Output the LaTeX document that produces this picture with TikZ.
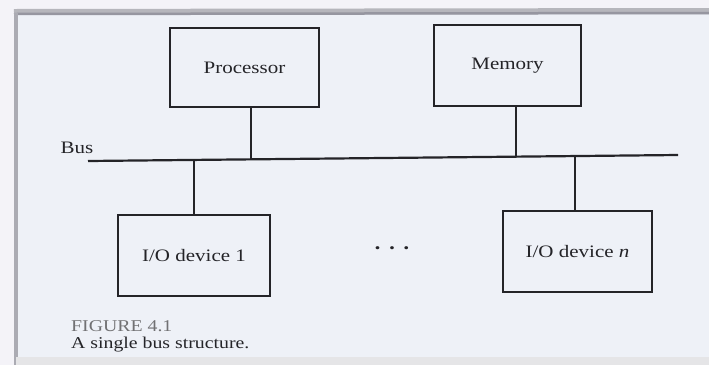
\documentclass[tikz,border=0pt]{standalone}
\usepackage{fontspec}
\setmainfont[FakeStretch=1.2]{Liberation Serif}
\definecolor{paper}{RGB}{238,241,247}
\definecolor{margin}{RGB}{244,243,248}
\definecolor{ink}{RGB}{36,36,40}
\definecolor{edge}{RGB}{150,150,160}
\tikzset{
  unit/.style={draw=ink, line width=2.2pt, fill=paper, text=ink,
    inner sep=0pt, font=\fontsize{17.5}{20}\selectfont},
  wire/.style={draw=ink, line width=1.6pt},
  busline/.style={draw=ink, line width=2.2pt},
  lbl/.style={text=ink, inner sep=0pt, font=\fontsize{17.5}{20}\selectfont},
  caption/.style={inner sep=0pt, anchor=west, font=\fontsize{16.5}{19}\selectfont},
}
\begin{document}
\begin{tikzpicture}[x=1pt, y=-1pt]
  % page and scan edges
  \useasboundingbox (0,0) rectangle (709,365);
  \fill[margin] (0,0) rectangle (709,365);
  \fill[paper] (16,14) rectangle (709,357);
  \draw[edge!70, line width=6pt] (14,12) -- (709,11);
  \draw[edge, line width=2.5pt] (14,14) -- (709,13);
  \draw[edge!80, line width=3.5pt] (16,13) -- (16,365);
  \fill[edge!25] (16,357) rectangle (709,365);

  % units on the bus
  \node[unit, minimum width=149pt, minimum height=79pt] (proc) at (244.5,67.5) {Processor};
  \node[unit, minimum width=147pt, minimum height=81pt] (mem)  at (507.5,65.5) {Memory};
  \node[unit, minimum width=152pt, minimum height=81pt] (io1)  at (194,255.5) {I/O device 1};
  \node[unit, minimum width=149pt, minimum height=81pt] (ion)  at (577.5,251.5) {I/O device \textit{n}};

  % the bus
  \coordinate (busL) at (88,161);
  \coordinate (busR) at (678,155);
  \draw[busline] (busL) -- (busR);
  \node[lbl] (buslbl) at (77,148) {Bus};

  % taps on the bus
  \coordinate (pB) at (251,159.3);
  \coordinate (mB) at (516,156.6);
  \coordinate (iB) at (194,159.9);
  \coordinate (nB) at (575,156.0);
  \draw[wire] (proc.south -| pB) -- (pB);
  \draw[wire] (mem.south -| mB) -- (mB);
  \draw[wire] (iB) -- (iB |- io1.north);
  \draw[wire] (nB) -- (nB |- ion.north);

  % further devices
  \node[lbl, font=\fontsize{13}{14}\selectfont] (dots) at (392,250)
    {\textbullet\hspace{9pt}\textbullet\hspace{9pt}\textbullet};

  % caption
  \node[caption, text=ink!65] (fig) at (71,326) {FIGURE 4.1};
  \node[caption, text=ink] (cap) at (71,345) {A single bus structure.};
\end{tikzpicture}
\end{document}
